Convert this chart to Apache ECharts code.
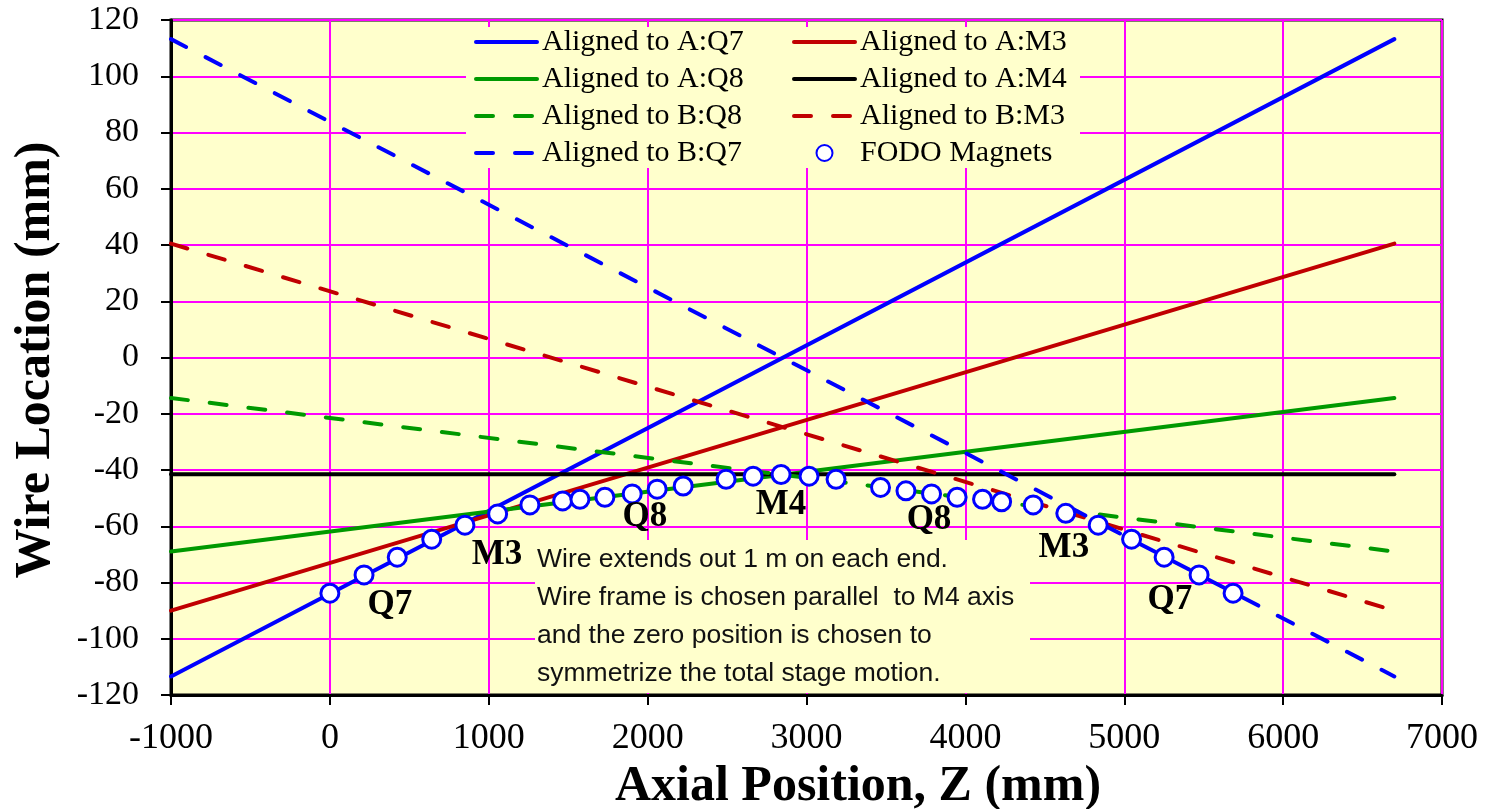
<!DOCTYPE html>
<html lang="en">
<head>
    <meta charset="UTF-8">
    <title>Wire Location vs Axial Position</title>
    <script src="https://cdn.jsdelivr.net/npm/echarts@6.0.0/dist/echarts.min.js"></script>
    <style>
        html, body { margin: 0; padding: 0; background: #fff; }
    </style>
</head>
<body>
    <div id="chart" style="width: 1487px; height: 809px;"></div>

    <script>
        // wire runs from -1000 to 6700 mm, each aligned line given by its two end values
        var wireEnds = [-1000, 6700];
        var alignAQ7 = [-113.4, 113.2];
        var alignAM3 = [-90.0, 40.5];
        var alignAQ8 = [-69.0, -14.4];
        var alignAM4 = [-41.5, -41.5];
        var alignBQ8 = [-14.4, -69.0];
        var alignBM3 = [40.5, -90.0];
        var alignBQ7 = [113.2, -113.4];

        // FODO magnet positions
        var fodoZ = [0, 215, 424, 641, 850, 1056, 1259, 1465, 1574, 1731,
                     1903, 2060, 2224, 2494, 2664, 2840, 3016, 3186,
                     3466, 3626, 3787, 3948, 4108, 4228, 4427,
                     4632, 4836, 5046, 5251, 5471, 5685];
        var fodoY = [-83.8, -77.3, -71.0, -64.6, -59.6, -55.6, -52.4, -51.0, -50.4, -49.7,
                     -48.5, -46.8, -45.7, -43.3, -42.2, -41.6, -42.2, -43.3,
                     -46.2, -47.4, -48.5, -49.7, -50.4, -51.3, -52.4,
                     -55.4, -59.6, -64.6, -71.0, -77.3, -83.8];

        // magnet name labels
        var magText = ['Q7', 'M3', 'Q8', 'M4', 'Q8', 'M3', 'Q7'];
        var magX = [378, 1052, 1983, 2840, 3771, 4620, 5287];
        var magY = [-88, -70.2, -56.7, -52.4, -57.8, -67.8, -86.2];

        var legendLeft = ['Aligned to A:Q7', 'Aligned to A:Q8', 'Aligned to B:Q8', 'Aligned to B:Q7'];
        var legendRight = ['Aligned to A:M3', 'Aligned to A:M4', 'Aligned to B:M3', 'FODO Magnets'];

        var note = 'Wire extends out 1 m on each end.\n' +
                   'Wire frame is chosen parallel  to M4 axis\n' +
                   'and the zero position is chosen to\n' +
                   'symmetrize the total stage motion.';

        var serif = 'Liberation Serif, Times New Roman, serif';
        var dash = [17, 22];

        function pts(ys) {
            return [[wireEnds[0], ys[0]], [wireEnds[1], ys[1]]];
        }

        function lineSeries(name, ys, color, dashed) {
            return {
                name: name,
                type: 'line',
                data: pts(ys),
                symbol: 'none',
                silent: true,
                lineStyle: {
                    color: color,
                    width: 4,
                    type: dashed ? dash : 'solid',
                    cap: 'round'
                },
                itemStyle: { color: color }
            };
        }

        // legend entries: lines show no symbol, the scatter keeps its ring
        function legendItems(names) {
            return names.map(function (n) {
                if (n === 'FODO Magnets') {
                    return { name: n };
                }
                return { name: n, itemStyle: { opacity: 0 }, lineStyle: { width: 4 } };
            });
        }

        var chart = echarts.init(document.getElementById('chart'));

        var legendCommon = {
            orient: 'vertical',
            itemWidth: 61,
            itemHeight: 16,
            itemGap: 7,
            padding: 0,
            selectedMode: false,
            textStyle: { fontFamily: serif, fontSize: 30, color: '#000', lineHeight: 30 }
        };

        chart.setOption({
            animation: false,
            backgroundColor: '#fff',
            grid: {
                left: 171, right: 45, top: 20, bottom: 114,
                show: true,
                backgroundColor: '#FFFFCC',
                borderColor: '#000',
                borderWidth: 3
            },
            legend: [
                Object.assign({ data: legendItems(legendLeft), left: 474, top: 27 }, legendCommon),
                Object.assign({ data: legendItems(legendRight), left: 792, top: 27 }, legendCommon)
            ],
            xAxis: {
                type: 'value',
                min: -1000, max: 7000, interval: 1000,
                axisLine: { show: true, onZero: false, lineStyle: { color: '#000', width: 3 } },
                axisTick: { show: true, length: 10, lineStyle: { color: '#000', width: 2 } },
                axisLabel: {
                    margin: 26, fontFamily: serif, fontSize: 36, color: '#000',
                    formatter: function (v) { return String(v); }
                },
                splitLine: { show: true, lineStyle: { color: '#FF00FF', width: 2 } }
            },
            yAxis: {
                type: 'value',
                min: -120, max: 120, interval: 20,
                axisLine: { show: true, onZero: false, lineStyle: { color: '#000', width: 3 } },
                axisTick: { show: true, length: 10, lineStyle: { color: '#000', width: 2 } },
                axisLabel: { margin: 32, fontFamily: serif, fontSize: 34, color: '#000' },
                splitLine: { show: true, lineStyle: { color: '#FF00FF', width: 2 } }
            },
            graphic: [
                // legend background hides the grid lines
                { type: 'rect', z: 1, silent: true,
                  shape: { x: 466, y: 27, width: 614, height: 141 },
                  style: { fill: '#FFFFCC' } },
                // note box
                { type: 'rect', z: 1, silent: true,
                  shape: { x: 535, y: 540, width: 495, height: 153 },
                  style: { fill: '#FFFFCC' } },
                { type: 'text', z: 5, silent: true, x: 537, y: 541,
                  style: { text: note, fontFamily: 'Liberation Sans, Arial, sans-serif',
                           fontSize: 26.5, lineHeight: 38, fill: '#111',
                           align: 'left', verticalAlign: 'top' } },
                // axis titles
                { type: 'text', z: 5, silent: true, x: 858, y: 787,
                  style: { text: 'Axial Position, Z (mm)', fontFamily: serif, fontWeight: 'bold',
                           fontSize: 50, fill: '#000', align: 'center', verticalAlign: 'middle' } },
                { type: 'text', z: 5, silent: true, x: 36, y: 360, rotation: Math.PI / 2,
                  style: { text: 'Wire Location (mm)', fontFamily: serif, fontWeight: 'bold',
                           fontSize: 50, fill: '#000', align: 'center', verticalAlign: 'middle' } }
            ],
            series: [
                lineSeries('Aligned to A:Q7', alignAQ7, '#0000FF', false),
                lineSeries('Aligned to A:M3', alignAM3, '#C00000', false),
                lineSeries('Aligned to A:Q8', alignAQ8, '#009900', false),
                lineSeries('Aligned to A:M4', alignAM4, '#000000', false),
                lineSeries('Aligned to B:Q8', alignBQ8, '#009900', true),
                lineSeries('Aligned to B:M3', alignBM3, '#C00000', true),
                lineSeries('Aligned to B:Q7', alignBQ7, '#0000FF', true),
                {
                    name: 'FODO Magnets',
                    type: 'scatter',
                    data: fodoZ.map(function (z, i) { return [z, fodoY[i]]; }),
                    symbol: 'circle',
                    symbolSize: 18,
                    z: 4,
                    silent: true,
                    itemStyle: { color: '#FFFFFF', borderColor: '#0000FF', borderWidth: 3, opacity: 1 }
                },
                {
                    name: 'magnet labels',
                    type: 'scatter',
                    data: magText.map(function (t, i) { return { name: t, value: [magX[i], magY[i]] }; }),
                    symbolSize: 1,
                    z: 5,
                    silent: true,
                    itemStyle: { color: 'transparent' },
                    label: {
                        show: true,
                        position: 'inside',
                        formatter: '{b}',
                        fontFamily: serif,
                        fontWeight: 'bold',
                        fontSize: 35,
                        color: '#000',
                        opacity: 1,
                        textBorderWidth: 0
                    }
                }
            ]
        });
    </script>
</body>
</html>
